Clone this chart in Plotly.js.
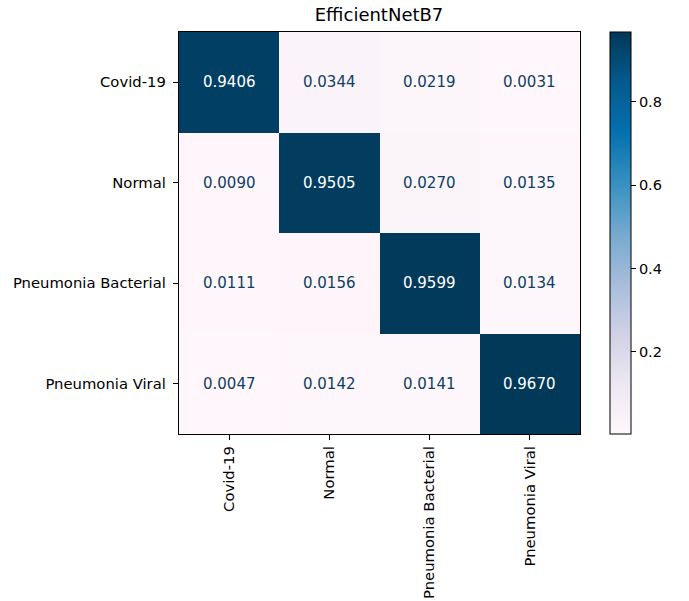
<!DOCTYPE html>
<html><head><meta charset="utf-8">
<script src="https://cdn.plot.ly/plotly-3.0.1.min.js"></script>
<style>html,body{margin:0;padding:0;background:#fff}</style>
</head><body><div id="plot" style="width:689px;height:601px"></div>
<script>
var classes = ["Covid-19", "Normal", "Pneumonia Bacterial", "Pneumonia Viral"];
var rowCovid = [0.9406, 0.0344, 0.0219, 0.0031];
var rowNormal = [0.0090, 0.9505, 0.0270, 0.0135];
var rowBacterial = [0.0111, 0.0156, 0.9599, 0.0134];
var rowViral = [0.0047, 0.0142, 0.0141, 0.9670];
var z = [rowCovid, rowNormal, rowBacterial, rowViral];
var colorbarTicks = [0.2, 0.4, 0.6, 0.8];

var pubu = [
  [0.0, '#fff7fb'], [0.125, '#ece7f2'], [0.25, '#d0d1e6'], [0.375, '#a6bddb'],
  [0.5, '#74a9cf'], [0.625, '#3690c0'], [0.75, '#0570b0'], [0.875, '#045a8d'], [1.0, '#023858']
];

var flat = [].concat.apply([], z);
var zmin = Math.min.apply(null, flat), zmax = Math.max.apply(null, flat);
var thresh = (zmin + zmax) / 2;

var annotations = [];
for (var i = 0; i < classes.length; i++) {
  for (var j = 0; j < classes.length; j++) {
    annotations.push({
      x: classes[j], y: classes[i], xref: 'x', yref: 'y',
      text: z[i][j].toFixed(4), showarrow: false,
      font: {family: 'DejaVu Sans', size: 15, color: z[i][j] > thresh ? '#ffffff' : '#0f3f63'}
    });
  }
}

var trace = {
  type: 'heatmap', z: z, x: classes, y: classes,
  colorscale: pubu, zmin: zmin, zmax: zmax, xgap: 0, ygap: 0,
  hoverinfo: 'none',
  colorbar: {
    x: 1.0748, xanchor: 'left', xref: 'paper', thickness: 21, thicknessmode: 'pixels',
    len: 1, lenmode: 'fraction', y: 0.5, yanchor: 'middle',
    outlinecolor: '#000', outlinewidth: 1, tickvals: colorbarTicks, ticktext: colorbarTicks.map(function(v){return v.toFixed(1);}),
    ticks: 'outside', ticklen: 5, tickcolor: '#000', tickwidth: 1,
    tickfont: {family: 'DejaVu Sans', size: 14.5, color: '#000'}, xpad: 0, ypad: 0
  }
};

var layout = {
  width: 689, height: 601,
  margin: {l: 179, r: 109, t: 32, b: 167},
  paper_bgcolor: '#fff', plot_bgcolor: '#fff',
  title: {text: 'EfficientNetB7', x: 0.5501, xanchor: 'center', y: 0.976, yanchor: 'middle',
          font: {family: 'DejaVu Sans', size: 18, color: '#000'}},
  xaxis: {type: 'category', tickangle: -90, ticks: 'outside', ticklen: 5, tickcolor: '#000',
          showline: true, linecolor: '#000', linewidth: 1.2, mirror: true, showgrid: false, zeroline: false,
          tickfont: {family: 'DejaVu Sans', size: 14.8, color: '#000'}, fixedrange: true},
  yaxis: {type: 'category', autorange: 'reversed', ticks: 'outside', ticklen: 5, tickcolor: '#000',
          ticklabelstandoff: 4,
          showline: true, linecolor: '#000', linewidth: 1.2, mirror: true, showgrid: false, zeroline: false,
          tickfont: {family: 'DejaVu Sans', size: 14.8, color: '#000'}, fixedrange: true},
  annotations: annotations
};

Plotly.newPlot('plot', [trace], layout, {displayModeBar: false, staticPlot: true});
</script></body></html>
